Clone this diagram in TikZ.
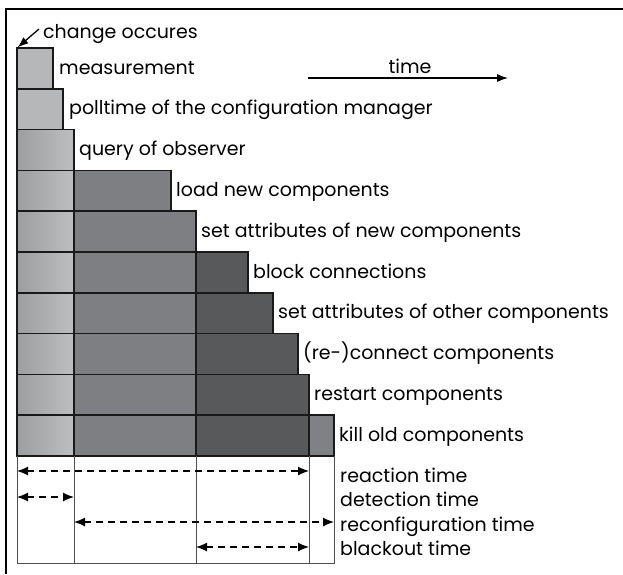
\documentclass[tikz,border=0pt]{standalone}
\usepackage{fontspec}
\setmainfont{Poppins}
\usetikzlibrary{arrows.meta}

\definecolor{detectL}{HTML}{9D9EA0}
\definecolor{detectR}{HTML}{BDBEC0}
\definecolor{detectflat}{HTML}{B6B7B9}
\definecolor{loadcol}{HTML}{7E7F82}
\definecolor{blockcol}{HTML}{58595B}
\definecolor{killcol}{HTML}{808184}
\definecolor{gridcol}{HTML}{505050}

\tikzset{
  phase/.style={draw=black!90, line width=1.5pt},
  detectbox/.style={phase, left color=detectL, right color=detectR},
  flatbox/.style={phase, fill=detectflat},
  loadbox/.style={phase, fill=loadcol},
  blockbox/.style={phase, fill=blockcol},
  killbox/.style={phase, fill=killcol},
  lbl/.style={anchor=base west, inner sep=0pt, font=\fontsize{19}{22}\selectfont},
  grid/.style={draw=gridcol, line width=1pt},
  span/.style={dash pattern=on 7pt off 5pt, line width=1.2pt,
    {Latex[length=11pt,width=9pt]}-{Latex[length=11pt,width=9pt]}},
  pointer/.style={line width=1.3pt, -{Latex[length=11pt,width=8pt]}},
}

\begin{document}
\begin{tikzpicture}[x=1pt,y=-1pt]
  \useasboundingbox (0,0) rectangle (623,574);

  % outer frame (top and left edges)
  \draw[line width=2.6pt] (623,9) -- (6,9) -- (6,574);

  % column positions
  \def\xa{17}\def\xb{74}\def\xc{196}\def\xd{309}\def\xe{334}

  % rows 1-3: detection phases
  \draw[flatbox]   (\xa,48)   rectangle (53,88.8);
  \draw[flatbox]   (\xa,88.8) rectangle (63,129.6);
  \draw[detectbox] (\xa,129.6) rectangle (\xb,170.4);

  % row 4: load new components
  \draw[detectbox] (\xa,170.4) rectangle (\xb,211.2);
  \draw[loadbox]   (\xb,170.4) rectangle (171,211.2);
  % row 5: set attributes of new components
  \draw[detectbox] (\xa,211.2) rectangle (\xb,252);
  \draw[loadbox]   (\xb,211.2) rectangle (\xc,252);
  % rows 6-9: blackout phases
  \foreach \top/\right in {252/248, 292.8/273, 333.6/298, 374.4/\xd}{
    \draw[detectbox] (\xa,\top) rectangle (\xb,\top+40.8);
    \draw[loadbox]   (\xb,\top) rectangle (\xc,\top+40.8);
    \draw[blockbox]  (\xc,\top) rectangle (\right,\top+40.8);
  }
  % row 10: kill old components
  \draw[detectbox] (\xa,415.2) rectangle (\xb,456);
  \draw[loadbox]   (\xb,415.2) rectangle (\xc,456);
  \draw[blockbox]  (\xc,415.2) rectangle (\xd,456);
  \draw[killbox]   (\xd,415.2) rectangle (\xe,456);

  % phase labels
  \node[lbl] (chg)   at (43,38)   {change occures};
  \node[lbl] (meas)  at (59,74)   {measurement};
  \node[lbl] (poll)  at (69,114)  {polltime of the configuration manager};
  \node[lbl] (query) at (79,155)  {query of observer};
  \node[lbl] (load)  at (176,196) {load new components};
  \node[lbl] (setn)  at (201,237) {set attributes of new components};
  \node[lbl] (blk)   at (253,278) {block connections};
  \node[lbl] (seto)  at (278,318.5) {set attributes of other components};
  \node[lbl] (recon) at (303,359) {(re-)connect components};
  \node[lbl] (rest)  at (314,400) {restart components};
  \node[lbl] (kill)  at (339,441) {kill old components};

  % change marker
  \coordinate (chgfrom) at (39,29);
  \coordinate (chgto)   at (17.5,47.5);
  \draw[pointer] (chgfrom) -- (chgto);

  % time axis
  \coordinate (tstart) at (308,78);
  \coordinate (tend)   at (508,78);
  \draw[pointer, line width=1.2pt] (tstart) -- (tend);
  \node[lbl, anchor=base] (time) at (410,73) {time};

  % timing grid below the phases
  \draw[grid] (\xa,456) -- (\xa,563) -- (\xe,563) -- (\xe,456);
  \foreach \x in {\xb,\xc,\xd} \draw[grid] (\x,456) -- (\x,563);

  % time spans
  \coordinate (r0) at (\xa,471);  \coordinate (r1) at (\xd,471);
  \coordinate (d0) at (\xa,497);  \coordinate (d1) at (\xb,497);
  \coordinate (c0) at (\xb,522);  \coordinate (c1) at (\xe,522);
  \coordinate (b0) at (\xc,547);  \coordinate (b1) at (\xd,547);
  \draw[span] (r0) -- (r1);
  \draw[span] (d0) -- (d1);
  \draw[span] (c0) -- (c1);
  \draw[span] (b0) -- (b1);

  \node[lbl] (treact) at (340,482) {reaction time};
  \node[lbl] (tdet)   at (340,506) {detection time};
  \node[lbl] (trec)   at (340,531) {reconfiguration time};
  \node[lbl] (tblack) at (340,555.5) {blackout time};
\end{tikzpicture}
\end{document}
